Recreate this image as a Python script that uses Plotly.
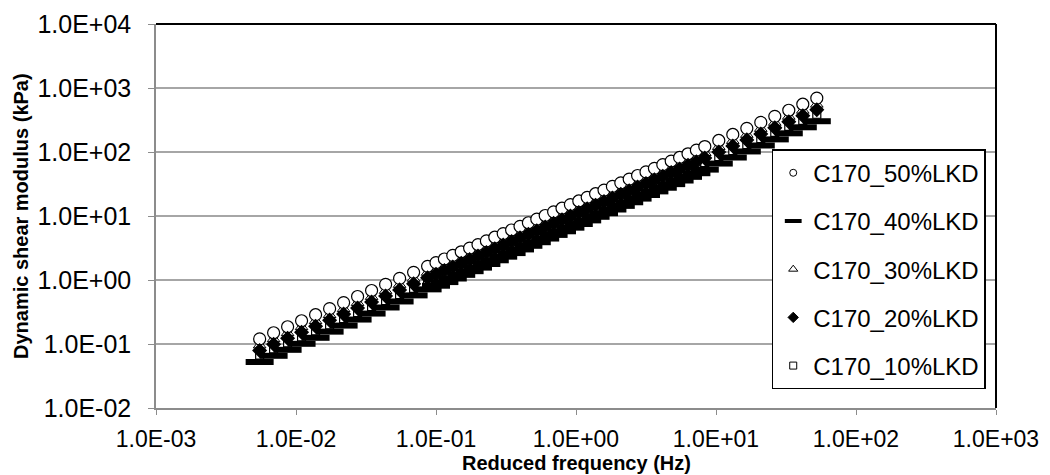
import plotly.graph_objects as go

# Reduced frequency (Hz), shared by all mixes
freq_hz = [
    0.00550, 0.00692, 0.00871, 0.01096, 0.0138, 0.01738, 0.02188, 0.02754, 0.03467, 0.04365,
    0.05495, 0.06918, 0.0871,
    0.1000, 0.1148, 0.1318, 0.1514, 0.1738, 0.1995, 0.2291, 0.2630, 0.3020, 0.3467,
    0.3981, 0.4571, 0.5248, 0.6026, 0.6918, 0.7943, 0.9120, 1.047, 1.202, 1.380,
    1.585, 1.820, 2.089, 2.399, 2.754, 3.162, 3.631, 4.169, 4.786, 5.495,
    6.310, 7.244, 8.318,
    10.47, 13.18, 16.60, 20.89, 26.30, 33.11, 41.69, 52.48,
]

# Dynamic shear modulus (kPa)
g_50 = [
    0.120, 0.150, 0.186, 0.231, 0.287, 0.357, 0.444, 0.552, 0.686, 0.853,
    1.06, 1.318, 1.637,
    1.866, 2.128, 2.42, 2.76, 3.15, 3.58, 4.08, 4.66, 5.31, 6.04,
    6.89, 7.85, 8.93, 10.19, 11.61, 13.23, 15.07, 17.18, 19.59, 22.3,
    25.4, 28.97, 33.0, 37.6, 42.9, 48.8, 55.6, 63.4, 72.2, 82.2,
    93.8, 106.9, 121.7,
    151.4, 188, 234, 290, 361, 449, 558, 694,
]
g_40 = [
    0.0523, 0.0654, 0.0811, 0.1007, 0.125, 0.156, 0.194, 0.241, 0.299, 0.372,
    0.462, 0.575, 0.714,
    0.814, 0.928, 1.055, 1.203, 1.373, 1.561, 1.779, 2.032, 2.315, 2.633,
    3.004, 3.423, 3.893, 4.443, 5.062, 5.768, 6.571, 7.49, 8.54, 9.72,
    11.07, 12.63, 14.39, 16.39, 18.70, 21.28, 24.24, 27.64, 31.48, 35.84,
    40.90, 46.61, 53.06,
    66.0, 82.0, 102.0, 126.4, 157.4, 195.8, 243.3, 302.6,
]
g_30 = [
    0.096, 0.120, 0.149, 0.185, 0.230, 0.286, 0.355, 0.442, 0.549, 0.682,
    0.848, 1.054, 1.310,
    1.493, 1.702, 1.936, 2.208, 2.52, 2.864, 3.264, 3.728, 4.248, 4.832,
    5.512, 6.28, 7.144, 8.152, 9.288, 10.58, 12.06, 13.74, 15.67, 17.84,
    20.32, 23.18, 26.4, 30.08, 34.32, 39.04, 44.48, 50.72, 57.76, 65.76,
    75.04, 85.52, 97.36,
    121.1, 150.4, 187.2, 232, 288.8, 359.2, 446.4, 555.2,
]
g_20 = [
    0.0792, 0.099, 0.1228, 0.1525, 0.1894, 0.2356, 0.293, 0.364, 0.453, 0.563,
    0.700, 0.870, 1.080,
    1.232, 1.404, 1.597, 1.822, 2.079, 2.363, 2.693, 3.076, 3.505, 3.986,
    4.547, 5.181, 5.894, 6.725, 7.663, 8.732, 9.946, 11.34, 12.93, 14.72,
    16.76, 19.12, 21.78, 24.82, 28.31, 32.21, 36.70, 41.84, 47.65, 54.25,
    61.91, 70.55, 80.32,
    99.9, 124.1, 154.4, 191.4, 238.3, 296.3, 368.3, 458.0,
]
g_10 = [
    0.0672, 0.084, 0.1042, 0.1294, 0.1607, 0.2, 0.2486, 0.3091, 0.3842, 0.4777,
    0.5936, 0.7381, 0.9167,
    1.045, 1.192, 1.355, 1.546, 1.764, 2.005, 2.285, 2.61, 2.974, 3.382,
    3.858, 4.396, 5.001, 5.706, 6.502, 7.409, 8.439, 9.621, 10.97, 12.49,
    14.22, 16.22, 18.48, 21.06, 24.02, 27.33, 31.14, 35.50, 40.43, 46.03,
    52.53, 59.86, 68.15,
    84.8, 105.3, 131.0, 162.4, 202.2, 251.4, 312.5, 388.6,
]

series_names = ["C170_50%LKD", "C170_40%LKD", "C170_30%LKD", "C170_20%LKD", "C170_10%LKD"]
series_values = {
    "C170_50%LKD": g_50, "C170_40%LKD": g_40, "C170_30%LKD": g_30,
    "C170_20%LKD": g_20, "C170_10%LKD": g_10,
}

x_tickvals = [1e-3, 1e-2, 1e-1, 1e0, 1e1, 1e2, 1e3]
x_ticktext = ["1.0E-03", "1.0E-02", "1.0E-01", "1.0E+00", "1.0E+01", "1.0E+02", "1.0E+03"]
y_tickvals = [1e-2, 1e-1, 1e0, 1e1, 1e2, 1e3, 1e4]
y_ticktext = ["1.0E-02", "1.0E-01", "1.0E+00", "1.0E+01", "1.0E+02", "1.0E+03", "1.0E+04"]

x_title = "Reduced frequency (Hz)"
y_title = "Dynamic shear modulus (kPa)"

FONT = "Liberation Sans, Arial, sans-serif"

plot_styles = {
    "C170_50%LKD": dict(symbol="circle", size=12, color="white", line=dict(color="black", width=1.2)),
    "C170_40%LKD": dict(symbol="line-ew", size=20, color="black", line=dict(color="black", width=6)),
    "C170_30%LKD": dict(symbol="triangle-up", size=11, color="white", line=dict(color="black", width=1)),
    "C170_20%LKD": dict(symbol="diamond", size=10, color="black", line=dict(color="black", width=1.5)),
    "C170_10%LKD": dict(symbol="square", size=8, color="white", line=dict(color="black", width=1.2)),
}
legend_styles = {
    "C170_50%LKD": dict(symbol="circle", size=7, color="white", line=dict(color="black", width=1)),
    "C170_40%LKD": dict(symbol="line-ew", size=12, color="black", line=dict(color="black", width=4)),
    "C170_30%LKD": dict(symbol="triangle-up", size=8, color="white", line=dict(color="black", width=1)),
    "C170_20%LKD": dict(symbol="diamond", size=8, color="black", line=dict(color="black", width=1)),
    "C170_10%LKD": dict(symbol="square", size=7, color="white", line=dict(color="black", width=1)),
}

# drawing order (bottom to top) as seen in the chart
draw_order = ["C170_30%LKD", "C170_10%LKD", "C170_50%LKD", "C170_40%LKD", "C170_20%LKD"]

fig = go.Figure()
for name in draw_order:
    fig.add_trace(go.Scatter(
        x=freq_hz, y=series_values[name], mode="markers", name=name,
        marker=plot_styles[name], showlegend=False,
    ))
# legend entries, in legend order
for name in series_names:
    fig.add_trace(go.Scatter(
        x=[None], y=[None], mode="markers", name=name, legendgroup=name,
        marker=legend_styles[name], showlegend=True,
    ))

# the page body adds an 8px margin, so the figure is sized to fit the 1050x475 window
fig.update_layout(
    width=1042, height=467,
    margin=dict(l=148, r=54, t=16, b=67, autoexpand=False),
    paper_bgcolor="white", plot_bgcolor="white",
    font=dict(family=FONT, color="black", size=24),
    showlegend=True,
    legend=dict(
        x=0.733, y=0.674, xanchor="left", yanchor="top",
        bgcolor="white", bordercolor="black", borderwidth=1.5,
        font=dict(family=FONT, size=24, color="black"),
        tracegroupgap=14, itemsizing="trace", itemwidth=30,
        traceorder="grouped",
    ),
    xaxis=dict(
        type="log", range=[-3, 3], automargin=False,
        tickvals=x_tickvals, ticktext=x_ticktext,
        showgrid=False, zeroline=False,
        showline=True, linecolor="#8c8c8c", linewidth=1.5,
        ticks="outside", ticklen=5, tickcolor="#8c8c8c", tickwidth=1,
        ticklabelstandoff=5,
        tickfont=dict(family=FONT, size=23),
    ),
    yaxis=dict(
        type="log", range=[-2, 4], automargin=False,
        tickvals=y_tickvals, ticktext=y_ticktext,
        showgrid=True, gridcolor="#a6a6a6", gridwidth=1.5, zeroline=False,
        showline=True, linecolor="#8c8c8c", linewidth=1.5,
        ticks="outside", ticklen=6, tickcolor="#8c8c8c", tickwidth=1,
        ticklabelstandoff=12,
        tickfont=dict(family=FONT, size=25),
    ),
    annotations=[
        dict(text="<b>" + x_title + "</b>", xref="paper", yref="paper",
             x=0.5, y=-0.143, xanchor="center", yanchor="middle", showarrow=False,
             font=dict(family=FONT, size=20, color="black")),
        dict(text="<b>" + y_title + "</b>", xref="paper", yref="paper",
             x=-0.1607, y=0.5, xanchor="center", yanchor="middle", showarrow=False,
             textangle=-90, font=dict(family=FONT, size=20, color="black")),
    ],
    shapes=[
        dict(type="line", xref="paper", yref="paper", x0=0, x1=1, y0=1, y1=1,
             line=dict(color="black", width=2)),
        dict(type="line", xref="paper", yref="paper", x0=1, x1=1, y0=0, y1=1,
             line=dict(color="black", width=2)),
    ],
)

fig.write_html("out.html")
